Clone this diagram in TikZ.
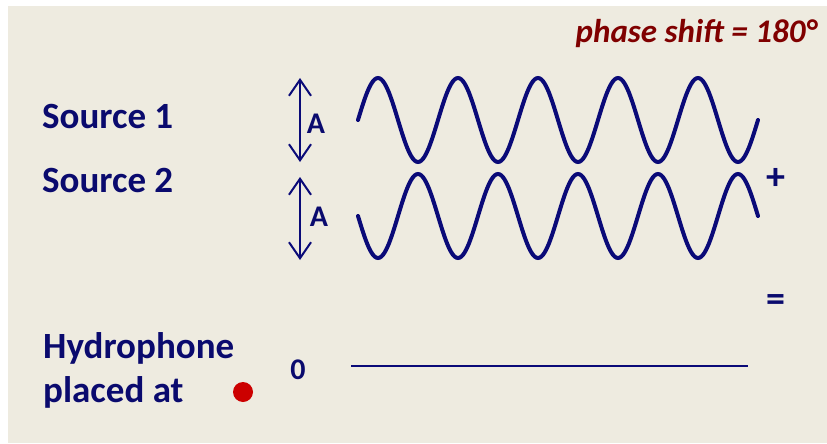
\documentclass[tikz,border=0pt]{standalone}
\usepackage{fontspec}
\setmainfont{Carlito}
\usetikzlibrary{arrows.meta}
\definecolor{bgbeige}{RGB}{238,235,224}
\definecolor{navytext}{RGB}{10,10,110}
\definecolor{wavecol}{RGB}{10,10,120}
\definecolor{darkred}{RGB}{128,0,0}
\definecolor{dotred}{RGB}{204,0,0}
\tikzset{
  label/.style={font=\bfseries\fontsize{37}{44}\selectfont, text=navytext, inner sep=0pt},
  small/.style={font=\bfseries\fontsize{30}{34}\selectfont, text=navytext, inner sep=0pt},
  sign/.style={font=\bfseries\fontsize{38}{40}\selectfont, text=navytext, inner sep=0pt},
  wave/.style={draw=wavecol, line width=4pt, line cap=round},
  amp/.style={draw=wavecol, line width=2pt, {Straight Barb[length=16pt,width=22pt,line width=2pt]}-{Straight Barb[length=16pt,width=22pt,line width=2pt]}},
  flat/.style={draw=wavecol, line width=2pt}
}
\begin{document}
\begin{tikzpicture}[x=1pt,y=-1pt]
\useasboundingbox (0,0) rectangle (827,444);
\fill[white] (0,0) rectangle (827,444);
\fill[bgbeige] (8,6) rectangle (827,443);

\node[font=\bfseries\itshape\fontsize{33}{38}\selectfont, text=darkred, anchor=base east, inner sep=0pt] (phase) at (817,43) {phase shift = 180°};

\node[label, anchor=base west] (s1) at (42,128) {Source 1};
\node[label, anchor=base west] (s2) at (42,192) {Source 2};
\node[label, anchor=base west] (hyd) at (43,358) {Hydrophone};
\node[label, anchor=base west] (plc) at (43,402) {placed at};

\coordinate (a1t) at (300,78);
\coordinate (a1b) at (300,162);
\coordinate (a2t) at (300,177);
\coordinate (a2b) at (300,260);
\draw[amp] (a1t) -- (a1b);
\draw[amp] (a2t) -- (a2b);
\node[small] (A1) at (316,124) {A};
\node[small] (A2) at (319,217) {A};

\draw[wave] plot[domain=0:400, samples=241, smooth] ({358+\x}, {120 - 42*sin(\x*4.5)});
\draw[wave] plot[domain=0:400, samples=241, smooth] ({358+\x}, {216 + 42*sin(\x*4.5)});

\node[sign] (plus) at (776,179) {+};
\node[sign] (eq) at (776,303) {=};

\fill[dotred] (243,392) circle (10);
\node[small] (zero) at (298,370) {0};
\coordinate (l0) at (351,366);
\coordinate (l1) at (748,366);
\draw[flat] (l0) -- (l1);
\end{tikzpicture}
\end{document}
